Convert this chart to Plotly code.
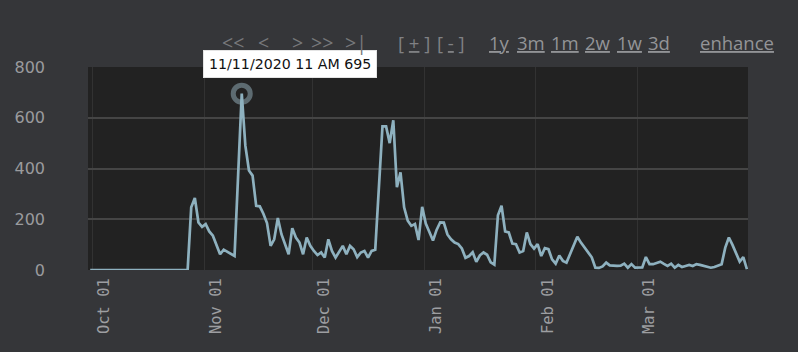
import pandas as pd
import plotly.graph_objects as go

# ---- data (daily readings, 11 AM) ----
start_date = "2020-09-30 11:00"
sep_values = [0]
oct_values = [0] * 27 + [247, 284, 187, 170]
nov_values = [181, 152, 135, 100, 62, 80, 72, 66, 55, 375, 695, 490, 392, 372, 253,
              251, 222, 185, 95, 121, 205, 141, 102, 62, 165, 128, 108, 62, 128, 95]
dec_values = [75, 59, 69, 49, 121, 75, 49, 75, 95, 62, 95, 82, 51, 69, 75, 49, 75, 80,
              320, 566, 566, 500, 590, 326, 385, 247, 194, 174, 181, 118, 249]
jan_values = [183, 150, 116, 158, 188, 187, 140, 121, 108, 102, 85, 48, 55, 70, 32, 58,
              69, 60, 30, 21, 216, 253, 152, 148, 104, 102, 69, 75, 148, 102, 84]
feb_values = [102, 55, 86, 82, 42, 25, 57, 36, 29, 62, 100, 131, 108, 90, 72, 50, 9, 8,
              14, 29, 18, 16, 16, 17, 25, 9, 23, 9]
mar_values = [9, 10, 51, 23, 23, 28, 33, 24, 16, 25, 9, 20, 12, 16, 20, 16, 23, 20, 16,
              12, 9, 12, 16, 23, 88, 128, 99, 62, 33, 51, 3]

month_ticks = ["2020-10-01", "2020-11-01", "2020-12-01", "2021-01-01", "2021-02-01", "2021-03-01"]
month_labels = ["Oct 01", "Nov 01", "Dec 01", "Jan 01", "Feb 01", "Mar 01"]
y_ticks = [0, 200, 400, 600, 800]

nav_arrows = ["<<", "<", ">", ">>", ">|"]
nav_zoom = ["1y", "3m", "1m", "2w", "1w", "3d"]

values = sep_values + oct_values + nov_values + dec_values + jan_values + feb_values + mar_values
dates = pd.date_range(start_date, periods=len(values), freq="D")

peak_i = max(range(len(values)), key=lambda k: values[k])
peak_date = dates[peak_i]
peak_val = values[peak_i]
hour = peak_date.strftime("%I").lstrip("0")
tip_text = f"{peak_date.strftime('%m/%d/%Y')} {hour} {peak_date.strftime('%p')} {peak_val}"

# ---- figure ----
W, H = 798, 352
ML, MR, MT, MB = 88, 50, 67, 82
PW, PH = W - ML - MR, H - MT - MB
NAV_FONT = "Open Sans"
NAV_SIZE = 18.5


def px(xp):
    return (xp - ML) / PW


def py(yp):
    return (H - MB - yp) / PH


fig = go.Figure()
fig.add_trace(go.Scatter(
    x=[peak_date], y=[peak_val], mode="markers",
    marker=dict(size=17, color="rgba(0,0,0,0)", line=dict(color="#5d6b71", width=5)),
    hoverinfo="skip", showlegend=False))
fig.add_trace(go.Scatter(
    x=dates, y=values, mode="lines",
    line=dict(color="#8eb1bf", width=2.7),
    hoverinfo="skip", showlegend=False))

annotations = [dict(
    x=peak_date, y=peak_val, xref="x", yref="y", showarrow=False,
    xanchor="left", yanchor="bottom", xshift=-38.7, yshift=15.6,
    text=tip_text, bgcolor="#ffffff", bordercolor="#e4e4e4", borderwidth=1, borderpad=5,
    font=dict(family="DejaVu Sans", size=14.2, color="#111111"))]

arrow_x = [233, 263.7, 297, 322, 355.5]
for t, xc in zip(nav_arrows, arrow_x):
    annotations.append(dict(x=px(xc), y=py(43), xref="paper", yref="paper", showarrow=False,
                            xanchor="center", yanchor="middle",
                            text=t.replace("<", "&lt;").replace(">", "&gt;"),
                            font=dict(family=NAV_FONT, size=19.5, color="#77787b")))
for t, xc in zip(["+", "-"], [414, 451]):
    annotations.append(dict(x=px(xc), y=py(43), xref="paper", yref="paper", showarrow=False,
                            xanchor="center", yanchor="middle", text=f"[ <u>{t}</u> ]",
                            font=dict(family=NAV_FONT, size=NAV_SIZE, color="#808184")))
zoom_x = [499, 530.5, 564.5, 597.6, 630, 659.4]
for t, xc in zip(nav_zoom, zoom_x):
    annotations.append(dict(x=px(xc), y=py(43), xref="paper", yref="paper", showarrow=False,
                            xanchor="center", yanchor="middle", text=f"<u>{t}</u>",
                            font=dict(family=NAV_FONT, size=NAV_SIZE, color="#939497")))
annotations.append(dict(x=px(737), y=py(43), xref="paper", yref="paper", showarrow=False,
                        xanchor="center", yanchor="middle", text="<u>enhance</u>",
                        font=dict(family=NAV_FONT, size=NAV_SIZE, color="#939497")))

fig.update_layout(
    width=W, height=H,
    margin=dict(l=ML, r=MR, t=MT, b=MB, pad=0),
    paper_bgcolor="#353639", plot_bgcolor="#222222",
    showlegend=False,
    annotations=annotations,
    xaxis=dict(
        type="date", range=["2020-09-29 20:24", "2021-03-31 18:15"],
        tickvals=month_ticks, ticktext=month_labels, tickangle=-90,
        tickfont=dict(family="DejaVu Sans Mono", size=15.5, color="#9d9ea1"),
        showgrid=True, gridcolor="#323232", gridwidth=1,
        zeroline=False, showline=False, ticks="",
        ticklabelshift=12, ticklabelstandoff=4, fixedrange=True),
    yaxis=dict(
        range=[0, 800], tickvals=y_ticks,
        tickfont=dict(family="DejaVu Sans", size=16, color="#9a9b9e"),
        showgrid=True, gridcolor="#454545", gridwidth=1.5,
        zeroline=False, showline=False, ticks="",
        ticklabelstandoff=42, fixedrange=True),
)

fig.write_html("out.html")
